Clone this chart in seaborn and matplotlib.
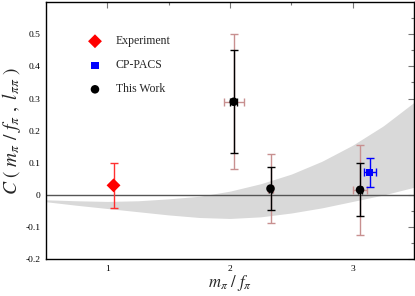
import matplotlib
matplotlib.use("Agg")
import matplotlib.pyplot as plt
import seaborn as sns
import numpy as np
import pandas as pd

# ---- data ----
exp_x = [1.05]
exp_y = [0.03]
exp_ylo = [0.07]
exp_yhi = [0.07]

cp_x = [3.14]
cp_y = [0.07]
cp_yerr = [0.046]
cp_xerr = [0.05]

tw_x = [2.03, 2.33, 3.06]
tw_y = [0.29, 0.02, 0.016]
tw_in_lo = [0.16, 0.067, 0.082]
tw_in_hi = [0.16, 0.067, 0.082]
tw_out_lo = [0.21, 0.108, 0.139]
tw_out_hi = [0.21, 0.108, 0.139]
tw_xin = [0.03, 0.01, 0.02]
tw_xout = [0.08, 0.02, 0.057]

band_x = [0.5, 0.75, 1.0, 1.25, 1.5, 1.75, 2.0, 2.25, 2.5, 2.75, 3.0, 3.25, 3.5]
band_hi = [-0.015, -0.018, -0.02, -0.018, -0.012, -0.004, 0.012, 0.035, 0.065, 0.105, 0.155, 0.215, 0.288]
band_lo = [-0.021, -0.032, -0.042, -0.052, -0.062, -0.070, -0.073, -0.068, -0.056, -0.040, -0.020, 0.0, 0.024]

sns.set_style("white")
plt.rcParams['font.family'] = ['Liberation Serif', 'DejaVu Serif']
plt.rcParams['mathtext.fontset'] = 'stix'

fig = plt.figure(figsize=(4.15, 2.96), dpi=100)
ax = fig.add_axes([0.111, 0.124, 0.8866, 0.869])

bx = np.linspace(0.5, 3.5, 200)
ax.fill_between(bx, np.interp(bx, band_x, band_lo), np.interp(bx, band_x, band_hi),
                color='#d9d9d9', lw=0, zorder=1)
ax.axhline(0, color='#555555', lw=1.0, zorder=2)

outer_c = '#c89090'
# This work outer errors
ax.errorbar(tw_x, tw_y, yerr=[tw_out_lo, tw_out_hi], xerr=tw_xout, fmt='none',
            ecolor=outer_c, elinewidth=1.0, capsize=3, capthick=1.0, zorder=3)
ax.errorbar(tw_x, tw_y, yerr=[tw_in_lo, tw_in_hi], xerr=tw_xin, fmt='none',
            ecolor='black', elinewidth=1.0, capsize=3, capthick=1.0, zorder=4)
# Experiment
ax.errorbar(exp_x, exp_y, yerr=[exp_ylo, exp_yhi], fmt='none',
            ecolor='#ff3030', elinewidth=1.0, capsize=3, capthick=1.0, zorder=3)
# CP-PACS
ax.errorbar(cp_x, cp_y, yerr=cp_yerr, xerr=cp_xerr, fmt='none',
            ecolor='#0000ff', elinewidth=1.0, capsize=3, capthick=1.0, zorder=3)

df_exp = pd.DataFrame({'x': exp_x, 'y': exp_y})
df_cp = pd.DataFrame({'x': cp_x, 'y': cp_y})
df_tw = pd.DataFrame({'x': tw_x, 'y': tw_y})
sns.scatterplot(data=df_exp, x='x', y='y', marker='D', s=50, color='#ff0000',
                edgecolor='none', ax=ax, zorder=5, label='Experiment')
sns.scatterplot(data=df_cp, x='x', y='y', marker='s', s=26, color='#0000ff',
                edgecolor='none', ax=ax, zorder=5, label='CP-PACS')
sns.scatterplot(data=df_tw, x='x', y='y', marker='o', s=38, color='black',
                edgecolor='none', ax=ax, zorder=5, label='This Work')

ax.set_xlim(0.5, 3.5)
ax.set_ylim(-0.2, 0.6)
ax.set_xticks([1, 2, 3])
ax.set_xticklabels(['1', '2', '3'])
ax.set_xticks([1.5, 2.5], minor=True)
ax.set_yticks([-0.2, -0.1, 0, 0.1, 0.2, 0.3, 0.4, 0.5])
ax.set_yticklabels(['-0.2', '-0.1', '0', '0.1', '0.2', '0.3', '0.4', '0.5'])
ax.set_yticks(np.arange(-0.15, 0.6, 0.1), minor=True)
ax.tick_params(which='both', direction='in', top=True, right=True,
               colors='#777777', labelcolor='black', labelsize=6.8)
ax.tick_params(which='major', length=4, width=0.8, pad=4)
ax.tick_params(which='minor', length=2, width=0.8)
for s in ax.spines.values():
    s.set_color('black')
    s.set_linewidth(1.0)

ax.set_xlabel(r'$m_{\pi}\ /\ f_{\pi}$', fontsize=12, labelpad=0)
ax.set_ylabel(r'$C\ (\ m_{\pi}\ /\ f_{\pi}\ ,\ l_{\pi\pi}\ )$', fontsize=14, labelpad=2)

leg = ax.legend(loc='upper left', bbox_to_anchor=(0.08, 0.912), frameon=False,
                fontsize=8.5, handletextpad=1.0, labelspacing=1.02, handlelength=1.5)

fig.savefig('out.png', dpi=100)
